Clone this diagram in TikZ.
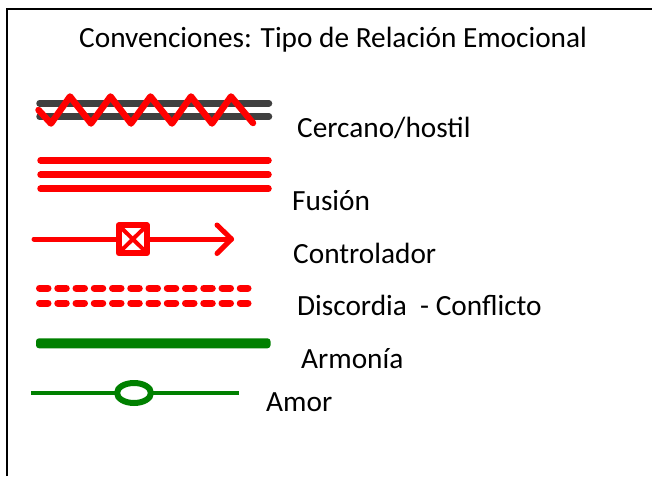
\documentclass[tikz,border=0pt]{standalone}
\usepackage{fontspec}
\setmainfont{Carlito}
\definecolor{grayline}{HTML}{404040}
\definecolor{redline}{HTML}{FF0000}
\definecolor{greenline}{HTML}{008000}
\tikzset{
  legendtext/.style={anchor=base west,inner sep=0pt,font=\fontsize{29.3pt}{33pt}\selectfont,text=black},
  thick red/.style={draw=redline,line width=6.5pt,line cap=round,line join=round},
  thin red/.style={draw=redline,line width=5pt,line cap=round,line join=round},
  dash red/.style={draw=redline,line width=7pt,line cap=round,dash pattern=on 8.5pt off 9.75pt},
}
\begin{document}
\begin{tikzpicture}[x=1pt,y=-1pt]
\useasboundingbox (0,0) rectangle (652,476);
\fill[white] (0,0) rectangle (652,476);
\draw[black,line width=2pt] (6.5,476) -- (6.5,9.5) -- (652,9.5);
% Cercano/hostil
\draw[grayline,line width=6.5pt,line cap=round] (39.5,103.3) -- (269,103.3);
\draw[grayline,line width=6.5pt,line cap=round] (39.5,116.7) -- (269,116.7);
\draw[thick red] (38.5,110) -- (51,123.5) -- (70,96.5) -- (91,123.5) -- (110.5,96.5) -- (131,123.5) -- (150.5,96.5) -- (172,123.5) -- (191,96.5) -- (212,123.5) -- (231,96.5) -- (253,123);
% Fusion
\draw[thick red] (40.5,160.3) -- (268.5,160.3);
\draw[thick red] (40.5,174.7) -- (268.5,174.7);
\draw[thick red] (40.5,188.7) -- (268.5,188.7);
% Controlador
\draw[thin red] (34,239) -- (118,239);
\draw[thin red] (148,239) -- (231.5,239);
\draw[thin red] (217,225) -- (231.5,239) -- (217,253.5);
\draw[draw=redline,line width=6pt,line join=round] (118.7,225.3) rectangle (147,253);
\draw[draw=redline,line width=4pt] (118.7,225.3) -- (147,253);
\draw[draw=redline,line width=4pt] (147,225.3) -- (118.7,253);
% Discordia
\draw[dash red] (39.5,288) -- (248,288);
\draw[dash red] (39.5,303) -- (248,303);
% Armonia
\fill[greenline,rounded corners=3pt] (36,338.3) rectangle (270.5,348.3);
% Amor
\draw[draw=greenline,line width=4.3pt] (31,393) -- (239,393);
\draw[draw=greenline,line width=6pt,fill=white] (134,393) ellipse (17 and 10);
% Text
\node[legendtext] (title) at (79,48) {Convenciones: Tipo de Relación Emocional};
\node[legendtext] (t1) at (297,137) {Cercano/hostil};
\node[legendtext] (t2) at (292,210) {Fusión};
\node[legendtext] (t3) at (293,263) {Controlador};
\node[legendtext] (t4) at (297,315) {Discordia\ \ - Conflicto};
\node[legendtext] (t5) at (301,368) {Armonía};
\node[legendtext] (t6) at (266,411) {Amor};
\end{tikzpicture}
\end{document}
